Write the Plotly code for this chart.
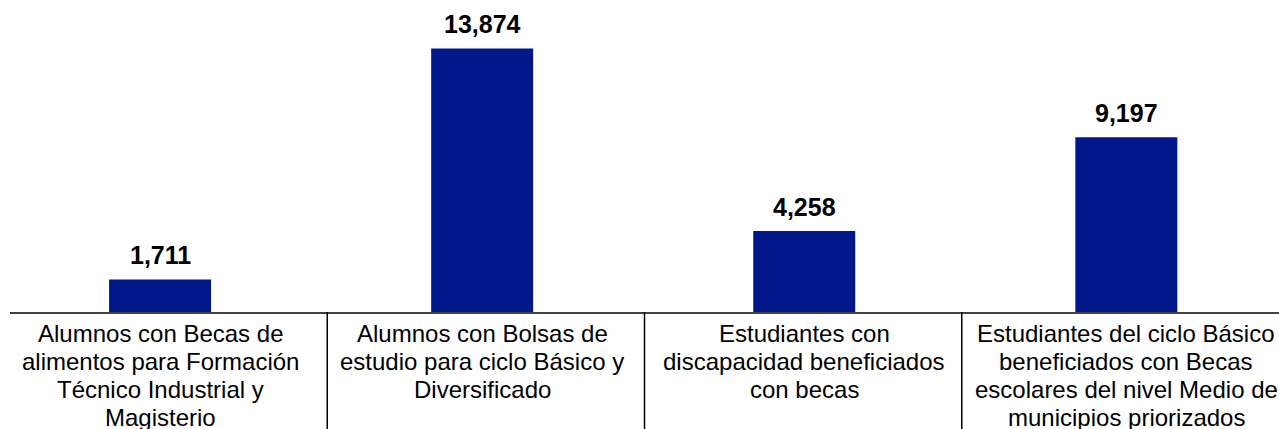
import plotly.graph_objects as go

categories = [
    "Alumnos con Becas de alimentos para Formación Técnico Industrial y Magisterio",
    "Alumnos con Bolsas de estudio para ciclo Básico y Diversificado",
    "Estudiantes con discapacidad beneficiados con becas",
    "Estudiantes del ciclo Básico beneficiados con Becas escolares del nivel Medio de municipios priorizados",
]
# label lines as wrapped in the reference
category_lines = [
    ["Alumnos con Becas de", "alimentos para Formación", "Técnico Industrial y", "Magisterio"],
    ["Alumnos con Bolsas de", "estudio para ciclo Básico y", "Diversificado"],
    ["Estudiantes con", "discapacidad beneficiados", "con becas"],
    ["Estudiantes del ciclo Básico", "beneficiados con Becas", "escolares del nivel Medio de", "municipios priorizados"],
]
values = [1711, 13874, 4258, 9197]

bar_color = "#00188A"
font_family = "Liberation Sans, Arial, sans-serif"
positions = list(range(len(categories)))

fig = go.Figure()
fig.add_trace(
    go.Bar(
        x=positions,
        y=values,
        width=0.3167,
        marker=dict(color=bar_color, line=dict(width=0)),
        hovertext=categories,
        hoverinfo="text+y",
    )
)

# value labels above each bar
for pos, val in zip(positions, values):
    fig.add_annotation(
        x=pos, y=val, text=f"<b>{val:,}</b>",
        showarrow=False, yanchor="bottom", yshift=8,
        font=dict(size=25, color="black", family=font_family),
    )

# category labels under the axis, one annotation per line (tighter spacing)
for pos, lines in zip(positions, category_lines):
    for k, line in enumerate(lines):
        fig.add_annotation(
            x=pos, xref="x", y=0, yref="paper", text=line,
            showarrow=False, yanchor="middle", yshift=-(21 + 28.3 * k),
            font=dict(size=24, color="black", family=font_family),
        )

# vertical separators between the label cells, below the axis
n = len(categories)
for i in range(1, n):
    fig.add_shape(
        type="line", xref="paper", yref="paper",
        x0=i / n, x1=i / n, y0=0, y1=-0.5,
        line=dict(color="black", width=1.5),
    )

fig.update_layout(
    width=1279,
    height=429,
    plot_bgcolor="white",
    paper_bgcolor="white",
    showlegend=False,
    margin=dict(l=10, r=0, t=8, b=117),
    font=dict(family=font_family, color="black"),
)
fig.update_xaxes(
    range=[-0.466, 3.474],
    showline=True, linecolor="#404040", linewidth=2,
    ticks="", showticklabels=False,
    showgrid=False, zeroline=False, fixedrange=True,
)
fig.update_yaxes(
    range=[0, 16000], visible=False, showgrid=False, zeroline=False,
)

fig.write_html(
    "out.html",
    config={"displayModeBar": False},
    post_script="document.body.style.margin='0';document.body.style.overflow='hidden';",
)
